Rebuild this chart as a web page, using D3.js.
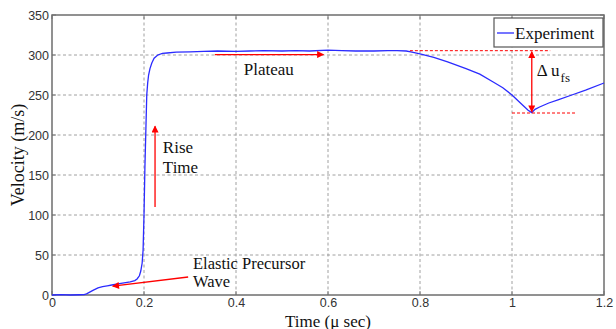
<!DOCTYPE html>
<html>
<head>
<meta charset="utf-8">
<script src="https://cdn.jsdelivr.net/npm/d3@7"></script>
<style>
  html, body { margin: 0; padding: 0; background: #fff; }
  svg { display: block; }
</style>
</head>
<body>
<svg id="chart" width="616" height="329"></svg>
<script>
// ---- data ----
const time = [0, 0.02, 0.04, 0.06, 0.07, 0.075, 0.08, 0.09, 0.1, 0.11, 0.12, 0.13, 0.14, 0.15, 0.16, 0.17, 0.18, 0.185, 0.19, 0.193, 0.196, 0.198, 0.2, 0.202, 0.204, 0.206, 0.208, 0.21, 0.213, 0.217, 0.222, 0.23, 0.24, 0.25, 0.27, 0.3, 0.33, 0.36, 0.4, 0.43, 0.46, 0.5, 0.53, 0.56, 0.6, 0.63, 0.66, 0.7, 0.73, 0.75, 0.77, 0.78, 0.8, 0.83, 0.86, 0.9, 0.93, 0.96, 0.98, 1.0, 1.02, 1.035, 1.043, 1.05, 1.06, 1.08, 1.1, 1.13, 1.16, 1.2];
const velocity = [0, 0.5, 0, 0.3, 0.5, 1.5, 3, 6, 9, 10.5, 11.5, 12.5, 13.5, 14.5, 15.5, 16.5, 18, 20, 24, 30, 40, 56, 100, 160, 205, 250, 265, 275, 283, 290, 296, 300, 302, 302.5, 303.5, 304, 304.5, 305, 304.5, 305, 305.5, 305, 305.5, 305, 306, 305.5, 305, 305, 305.5, 305.5, 305, 304, 301.5, 297, 291.5, 283, 276, 266, 259, 250, 239, 231, 228, 232, 235, 240, 244, 250, 256, 265];
const xTicks = [0, 0.2, 0.4, 0.6, 0.8, 1, 1.2];
const xTickLabels = ["0", "0.2", "0.4", "0.6", "0.8", "1", "1.2"];
const yTicks = [0, 50, 100, 150, 200, 250, 300, 350];
const seriesName = "Experiment";

// ---- layout ----
const svg = d3.select("#chart");
const m = { left: 52, top: 15, right: 12, bottom: 34 };
const W = 616, H = 329;
const x = d3.scaleLinear().domain([0, 1.2]).range([m.left, W - m.right]);
const y = d3.scaleLinear().domain([0, 350]).range([H - m.bottom, m.top]);

const serif = "'Liberation Serif', 'Times New Roman', serif";
const sans = "'Liberation Sans', Arial, sans-serif";
const gridColor = "#a0a0a0";
const red = "#ff0000";

// grid
const grid = svg.append("g");
grid.selectAll(".vg").data(xTicks.slice(1, -1)).join("line")
  .attr("x1", d => x(d)).attr("x2", d => x(d))
  .attr("y1", y(0)).attr("y2", y(350))
  .attr("stroke", gridColor).attr("stroke-width", 1).attr("stroke-dasharray", "3,2.5");
grid.selectAll(".hg").data(yTicks.slice(1, -1)).join("line")
  .attr("x1", x(0)).attr("x2", x(1.2))
  .attr("y1", d => y(d)).attr("y2", d => y(d))
  .attr("stroke", gridColor).attr("stroke-width", 1).attr("stroke-dasharray", "3,2.5");

// axes
const xAxis = d3.axisBottom(x).tickValues(xTicks).tickFormat((d, i) => xTickLabels[i]).tickSize(0).tickPadding(3);
const yAxis = d3.axisLeft(y).tickValues(yTicks).tickSize(0).tickPadding(3);
const gx = svg.append("g").attr("transform", `translate(0,${y(0)})`).call(xAxis);
const gy = svg.append("g").attr("transform", `translate(${x(0)},0)`).call(yAxis);
[gx, gy].forEach(g => {
  g.select(".domain").remove();
  g.selectAll("text").attr("font-family", sans).attr("font-size", 12.5).attr("fill", "#333");
});
gx.selectAll("text").attr("dy", "0.72em");

// small inner tick marks
const tk = svg.append("g").attr("stroke", "#777").attr("stroke-width", 1);
xTicks.forEach(t => {
  tk.append("line").attr("x1", x(t)).attr("x2", x(t)).attr("y1", y(0)).attr("y2", y(0) - 4);
  tk.append("line").attr("x1", x(t)).attr("x2", x(t)).attr("y1", y(350)).attr("y2", y(350) + 4);
});
yTicks.forEach(v => {
  tk.append("line").attr("x1", x(0)).attr("x2", x(0) + 4).attr("y1", y(v)).attr("y2", y(v));
  tk.append("line").attr("x1", x(1.2)).attr("x2", x(1.2) - 4).attr("y1", y(v)).attr("y2", y(v));
});

// frame
svg.append("rect")
  .attr("x", x(0)).attr("y", y(350))
  .attr("width", x(1.2) - x(0)).attr("height", y(0) - y(350))
  .attr("fill", "none").attr("stroke", "#6e6e6e").attr("stroke-width", 1.5);

// arrow markers
const defs = svg.append("defs");
defs.append("marker").attr("id", "ah")
  .attr("viewBox", "0 0 10 10").attr("refX", 9).attr("refY", 5)
  .attr("markerWidth", 9).attr("markerHeight", 7).attr("markerUnits", "userSpaceOnUse")
  .attr("orient", "auto-start-reverse")
  .append("path").attr("d", "M0,0 L10,5 L0,10 Z").attr("fill", red);

// data line
const line = d3.line().x((d, i) => x(time[i])).y(d => y(d));
svg.append("path").datum(velocity)
  .attr("d", line)
  .attr("fill", "none").attr("stroke", "#2b2bff").attr("stroke-width", 1.3);

// annotations
const ann = svg.append("g");
function arrow(t1, v1, t2, v2, both) {
  const l = ann.append("line")
    .attr("x1", x(t1)).attr("y1", y(v1)).attr("x2", x(t2)).attr("y2", y(v2))
    .attr("stroke", red).attr("stroke-width", 1.3)
    .attr("marker-end", "url(#ah)");
  if (both) l.attr("marker-start", "url(#ah)");
}
function text(t, v, s, size) {
  return ann.append("text").attr("x", x(t)).attr("y", y(v))
    .attr("font-family", serif).attr("font-size", size || 17).attr("fill", "#111").text(s);
}
// Rise time
arrow(0.224, 110, 0.224, 211);
text(0.241, 178, "Rise");
text(0.241, 152, "Time");
// Elastic precursor
arrow(0.296, 22.5, 0.132, 11);
text(0.3065, 33, "Elastic Precursor", 16.5);
text(0.3065, 9.5, "Wave", 16.5);
// Plateau
arrow(0.354, 300.5, 0.59, 300.5);
text(0.417, 275, "Plateau");
// Delta u_fs
ann.append("line").attr("x1", x(0.778)).attr("x2", x(1.083)).attr("y1", y(305.4)).attr("y2", y(305.4))
  .attr("stroke", red).attr("stroke-width", 1).attr("stroke-dasharray", "3,2");
ann.append("line").attr("x1", x(1.0)).attr("x2", x(1.141)).attr("y1", y(227.5)).attr("y2", y(227.5))
  .attr("stroke", red).attr("stroke-width", 1).attr("stroke-dasharray", "3,2");
arrow(1.043, 304, 1.043, 229, true);
const dt = text(1.054, 273.5, "Δ u");
dt.append("tspan").attr("font-size", 13).attr("dy", 6).attr("dx", 1).text("fs");

// legend
const lg = svg.append("g");
lg.append("rect").attr("x", 494).attr("y", 18).attr("width", 109).attr("height", 29)
  .attr("fill", "#fff").attr("stroke", "#555").attr("stroke-width", 1.2);
lg.append("line").attr("x1", 497).attr("x2", 514).attr("y1", 33).attr("y2", 33)
  .attr("stroke", "#2b2bff").attr("stroke-width", 1.3);
lg.append("text").attr("x", 515).attr("y", 38.5)
  .attr("font-family", serif).attr("font-size", 17).attr("fill", "#111").text(seriesName);

// axis titles
svg.append("text").attr("x", (x(0) + x(1.2)) / 2).attr("y", 326.5)
  .attr("text-anchor", "middle").attr("font-family", serif).attr("font-size", 17).attr("fill", "#111")
  .text("Time (μ sec)");
svg.append("text").attr("transform", `translate(24,${(y(0) + y(350)) / 2}) rotate(-90)`)
  .attr("text-anchor", "middle").attr("font-family", serif).attr("font-size", 18).attr("fill", "#111")
  .text("Velocity (m/s)");
</script>
</body>
</html>
